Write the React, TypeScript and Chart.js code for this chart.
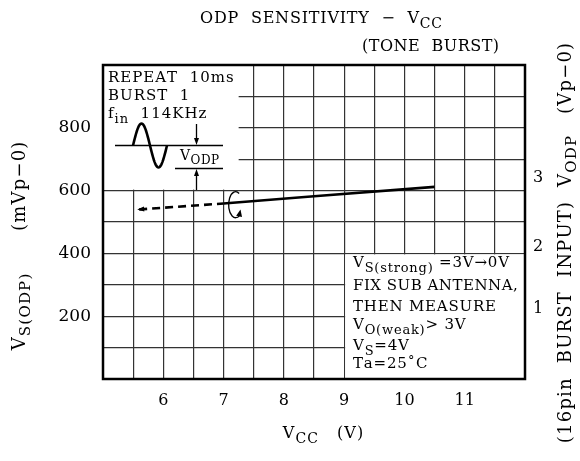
import React, { useEffect, useRef } from 'react';
import { Chart, registerables } from 'chart.js';
Chart.register(...registerables);

// ---- data ----
const curveVcc = [5.6, 7.0, 8.5, 10.5];
const curveVs = [540, 559, 582, 612];
const dashedSegments = 1; // first segment drawn dashed
const xTickLabels = [6, 7, 8, 9, 10, 11];
const yTickLabels = [200, 400, 600, 800];
const rightTickValues = [225, 420, 640];
const rightTickLabels = ['1', '2', '3'];
const xMin = 5, xMax = 12, xStep = 0.5;
const yMin = 0, yMax = 1000, yStep = 100;
const topLeftBoxXMax = 7.25, topLeftBoxYMin = 600;
const bottomRightBoxXMin = 9, bottomRightBoxYMax = 400;
const rotateMarkVcc = 7.2, rotateMarkVs = 555;

const FONT = '"DejaVu Serif"';

type Part = { t: string; sub?: boolean };

function drawRich(
  ctx: CanvasRenderingContext2D,
  parts: Part[],
  x: number,
  y: number,
  size: number,
  align: 'left' | 'center' | 'right' = 'left',
  ls = 1,
  subRatio = 0.85,
) {
  const base = `${size}px ${FONT}`;
  const subSize = Math.round(size * subRatio);
  const subFont = `${subSize}px ${FONT}`;
  const items: { ch: string; w: number; sub: boolean }[] = [];
  let total = 0;
  parts.forEach((p) => {
    ctx.font = p.sub ? subFont : base;
    for (const ch of Array.from(p.t)) {
      const w = ctx.measureText(ch).width + ls;
      items.push({ ch, w, sub: !!p.sub });
      total += w;
    }
  });
  total -= ls;
  let cx = align === 'center' ? x - total / 2 : align === 'right' ? x - total : x;
  ctx.textBaseline = 'alphabetic';
  ctx.textAlign = 'left';
  items.forEach((it) => {
    ctx.font = it.sub ? subFont : base;
    ctx.fillText(it.ch, cx, y + (it.sub ? size * 0.3 : 0));
    cx += it.w;
  });
}

function arrowHead(ctx: CanvasRenderingContext2D, x: number, y: number, ang: number, len = 7, half = 3) {
  ctx.beginPath();
  ctx.moveTo(x, y);
  ctx.lineTo(x - len * Math.cos(ang) + half * Math.sin(ang), y - len * Math.sin(ang) - half * Math.cos(ang));
  ctx.lineTo(x - len * Math.cos(ang) - half * Math.sin(ang), y - len * Math.sin(ang) + half * Math.cos(ang));
  ctx.closePath();
  ctx.fill();
}

const decorPlugin = {
  id: 'decor',
  beforeDatasetsDraw(chart: any) {
    const { ctx, chartArea: ca, scales } = chart;
    const xs = scales.x, ys = scales.y;
    ctx.save();
    ctx.fillStyle = '#fff';
    const tlx = xs.getPixelForValue(topLeftBoxXMax);
    const tly = ys.getPixelForValue(topLeftBoxYMin);
    ctx.fillRect(ca.left, ca.top, tlx - ca.left, tly - ca.top - 1);
    const brx = xs.getPixelForValue(bottomRightBoxXMin);
    const bry = ys.getPixelForValue(bottomRightBoxYMax);
    ctx.fillRect(brx + 1, bry + 1, ca.right - brx - 1, ca.bottom - bry - 1);
    ctx.restore();
  },
  afterDatasetsDraw(chart: any) {
    const { ctx, chartArea: ca, scales } = chart;
    const xs = scales.x, ys = scales.y;
    ctx.save();
    ctx.fillStyle = '#000';
    ctx.strokeStyle = '#000';

    // frame
    ctx.lineWidth = 2.5;
    ctx.strokeRect(ca.left, ca.top, ca.right - ca.left, ca.bottom - ca.top);

    // arrow at left end of curve
    const p0x = xs.getPixelForValue(curveVcc[0]);
    const p0y = ys.getPixelForValue(curveVs[0]);
    const p1x = xs.getPixelForValue(curveVcc[1]);
    const p1y = ys.getPixelForValue(curveVs[1]);
    arrowHead(ctx, p0x - 2, p0y + (p0y - p1y) * 2 / (p1x - p0x), Math.atan2(p0y - p1y, p0x - p1x), 7, 2.5);

    // rotation mark
    const rx = xs.getPixelForValue(rotateMarkVcc);
    const ry = ys.getPixelForValue(rotateMarkVs);
    ctx.lineWidth = 1.3;
    ctx.beginPath();
    ctx.ellipse(rx, ry, 7, 13, 0, -Math.PI / 3, Math.PI / 3.2, true);
    ctx.stroke();
    const ea = Math.PI / 3.2;
    arrowHead(ctx, rx + 7 * Math.cos(ea) + 1, ry + 13 * Math.sin(ea) - 6, -Math.PI / 2.3, 7, 3);

    // top-left inset
    drawRich(ctx, [{ t: 'REPEAT  10ms' }], 108, 82, 15);
    drawRich(ctx, [{ t: 'BURST  1' }], 108, 100, 15);
    drawRich(ctx, [{ t: 'f' }, { t: 'in', sub: true }, { t: '  114KHz' }], 108, 118, 15);
    ctx.lineWidth = 1.3;
    ctx.beginPath();
    ctx.moveTo(115, 145.5); ctx.lineTo(223, 145.5);
    ctx.moveTo(175, 168.5); ctx.lineTo(223, 168.5);
    ctx.moveTo(196.5, 124); ctx.lineTo(196.5, 139);
    ctx.moveTo(196.5, 190); ctx.lineTo(196.5, 175);
    ctx.stroke();
    arrowHead(ctx, 196.5, 145, Math.PI / 2, 7, 2.5);
    arrowHead(ctx, 196.5, 169, -Math.PI / 2, 7, 2.5);
    ctx.lineWidth = 2.6;
    ctx.beginPath();
    for (let i = 0; i <= 60; i++) {
      const t = i / 60;
      const px = 133 + 34 * t;
      const py = 145.5 - 22 * Math.sin(2 * Math.PI * t);
      if (i === 0) ctx.moveTo(px, py); else ctx.lineTo(px, py);
    }
    ctx.stroke();
    drawRich(ctx, [{ t: 'V' }, { t: 'ODP', sub: true }], 180, 160, 14, 'left', 0.5);

    // bottom-right notes
    const nx = 353;
    drawRich(ctx, [{ t: 'V' }, { t: 'S(strong)', sub: true }, { t: ' =3V→0V' }], nx, 267, 15, 'left', 0.8);
    drawRich(ctx, [{ t: 'FIX SUB ANTENNA,' }], nx, 290, 15, 'left', 0.5);
    drawRich(ctx, [{ t: 'THEN MEASURE' }], nx, 311, 15, 'left', 0.8);
    drawRich(ctx, [{ t: 'V' }, { t: 'O(weak)', sub: true }, { t: '> 3V' }], nx, 329, 15, 'left', 0.8);
    drawRich(ctx, [{ t: 'V' }, { t: 'S', sub: true }, { t: '=4V' }], nx, 350, 15, 'left', 0.8);
    drawRich(ctx, [{ t: 'Ta=25˚C' }], nx, 368, 15, 'left', 0.8);

    // titles
    drawRich(ctx, [{ t: 'ODP  SENSITIVITY  −  V' }, { t: 'CC', sub: true }], 200, 23, 16, 'left', 0.8);
    drawRich(ctx, [{ t: '(TONE  BURST)' }], 362, 51, 16, 'left', 0.5);
    drawRich(ctx, [{ t: 'V' }, { t: 'CC', sub: true }, { t: '   (V)' }], 323, 438, 16, 'center', 1);

    ctx.save();
    ctx.translate(25, 246);
    ctx.rotate(-Math.PI / 2);
    drawRich(ctx, [{ t: 'V' }, { t: 'S(ODP)', sub: true }, { t: '      (mVp−0)' }], 0, 0, 18, 'center', 1.2);
    ctx.restore();

    ctx.save();
    ctx.translate(571, 243);
    ctx.rotate(-Math.PI / 2);
    drawRich(ctx, [{ t: '(16pin  BURST  INPUT)  V' }, { t: 'ODP', sub: true }, { t: '   (Vp−0)' }], 0, 0, 18, 'center', 1.2);
    ctx.restore();

    ctx.restore();
  },
};

export default function App() {
  const ref = useRef<HTMLCanvasElement | null>(null);
  useEffect(() => {
    if (!ref.current) return;
    const tickFont = { family: FONT, size: 16 };
    const chart = new Chart(ref.current, {
      type: 'line',
      data: {
        datasets: [
          {
            data: curveVcc.map((x, i) => ({ x, y: curveVs[i] })),
            borderColor: '#000',
            borderWidth: 2.6,
            pointRadius: 0,
            tension: 0,
            fill: false,
            segment: {
              borderDash: (c: any) => (c.p0DataIndex < dashedSegments ? [8, 5] : undefined),
            },
          },
        ],
      },
      options: {
        animation: false,
        responsive: false,
        maintainAspectRatio: false,
        layout: { padding: { top: 65, left: 0, right: 0, bottom: 0 } },
        plugins: { legend: { display: false }, title: { display: false }, tooltip: { enabled: false } },
        scales: {
          x: {
            type: 'linear',
            min: xMin,
            max: xMax,
            ticks: {
              stepSize: xStep,
              autoSkip: false,
              maxRotation: 0,
              color: '#000',
              font: tickFont,
              padding: 12,
              callback: (v: any) => (xTickLabels.includes(Number(v)) ? String(v) : ''),
            },
            grid: { color: '#333', lineWidth: 1.2, drawTicks: false },
            border: { display: false },
            afterFit: (s: any) => { s.height = 82; },
          },
          y: {
            type: 'linear',
            position: 'left',
            min: yMin,
            max: yMax,
            ticks: {
              stepSize: yStep,
              autoSkip: false,
              color: '#000',
              font: { family: FONT, size: 17 },
              padding: 12,
              callback: (v: any) => (yTickLabels.includes(Number(v)) ? String(v) : ''),
            },
            grid: { color: '#333', lineWidth: 1.2, drawTicks: false },
            border: { display: false },
            afterFit: (s: any) => { s.width = 103; },
          },
          y2: {
            type: 'linear',
            position: 'right',
            min: yMin,
            max: yMax,
            afterBuildTicks: (s: any) => { s.ticks = rightTickValues.map((v) => ({ value: v })); },
            ticks: {
              autoSkip: false,
              color: '#000',
              font: tickFont,
              padding: 8,
              callback: (v: any) => rightTickLabels[rightTickValues.indexOf(Number(v))] ?? '',
            },
            grid: { display: false, drawTicks: false },
            border: { display: false },
            afterFit: (s: any) => { s.width = 55; },
          },
        },
      } as any,
      plugins: [decorPlugin],
    });
    return () => chart.destroy();
  }, []);
  return (
    <div style={{ position: 'fixed', left: 0, top: 0, width: 580, height: 461, background: '#fff' }}>
      <canvas ref={ref} width={580} height={461} style={{ display: 'block', width: 580, height: 461 }} />
    </div>
  );
}
